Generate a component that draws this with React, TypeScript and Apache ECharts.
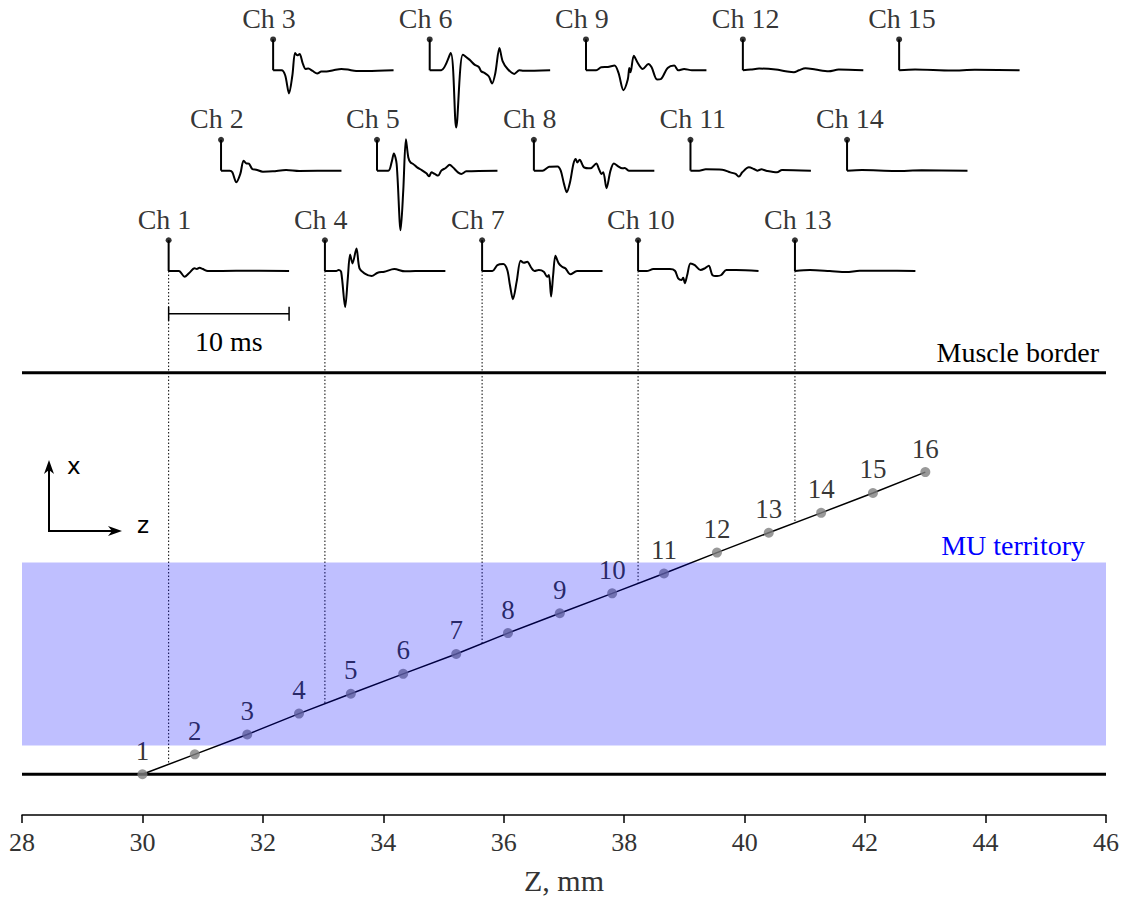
import React, { useEffect, useRef } from "react";
import * as echarts from "echarts";

const FONT = "'Liberation Serif', 'Times New Roman', serif";
const SANS = "'DejaVu Sans', sans-serif";

// axis ranges
const Z_MIN = 28;
const Z_MAX = 46;
const Z_STEP = 2;
const Y_MIN = 0;
const Y_MAX = 820;

// electrodes along the needle
const electrodeZ = [30.0, 30.87, 31.74, 32.6, 33.46, 34.33, 35.21, 36.07, 36.93, 37.8, 38.66, 39.54, 40.4, 41.27, 42.13, 43.0];
const electrodeY = [41, 61, 81, 102, 122, 142, 162, 183, 203, 223, 243, 264, 284, 304, 324, 345];
const electrodeLabels = ["1", "2", "3", "4", "5", "6", "7", "8", "9", "10", "11", "12", "13", "14", "15", "16"];

// horizontal structures
const bottomBorderY = 41;
const muscleBorderY = 445;
const muTerritory = [70, 254];

// waveform rows (baselines, same vertical units)
const rowBaseY = [547.3, 648.3, 749.3];
const stemHeight = 31;
const msToMm = 0.2;
const scaleBarMs = 10;
const scaleBarY = 504.3;

// waveforms: [time ms, amplitude]
const ch1 = [[0, 0], [0.85, 0], [1.32, -5.7], [1.68, -2.3], [2.15, 2.7], [2.34, 2], [2.56, 3.3], [2.84, 2], [3.25, 0], [5.6, 0.3], [10, 0]];
const ch2 = [[0, 0], [0.72, 0], [0.94, -1.7], [1.27, -11.7], [1.6, -3.3], [1.87, 10], [2.09, 7.3], [2.31, 7], [2.59, 1.7], [2.92, 1], [3.47, -1], [4.3, -0.7], [5.4, 0.7], [6.5, -0.3], [10, 0]];
const ch3 = [[0, 0], [0.7, 0], [1.0, -5], [1.32, -23.3], [1.6, -5], [1.82, 17.3], [2.0, 15], [2.2, 16.3], [2.45, 7.3], [2.7, 1.3], [2.92, 1.7], [3.28, -0.7], [3.66, -3.3], [4.0, -1.3], [4.44, -1.3], [5.0, 0], [5.67, 1.3], [6.2, 0.7], [6.9, -0.7], [7.8, -0.7], [10, 0]];
const ch4 = [[0, 0], [0.94, 0], [1.13, 1], [1.35, -1], [1.68, -36.3], [1.9, -7.3], [2.09, 16.7], [2.29, 7.7], [2.62, 22.7], [2.87, 2.7], [3.28, -2.3], [3.88, -5], [4.38, -1.7], [4.93, -0.7], [5.76, 2], [6.64, -0.3], [7.5, 0], [10, 0]];
const ch5 = [[0, 0], [0.94, 0], [1.21, 8.3], [1.4, 17.3], [1.63, 6.7], [1.96, -60], [2.18, -20], [2.4, 31.7], [2.6, 13.3], [2.78, 8.3], [3.0, 6.7], [3.33, 3.3], [3.69, 0.7], [4.1, -2.7], [4.33, -5.7], [4.52, -1.7], [4.79, -3.3], [5.07, -5], [5.34, 0], [5.7, 2.7], [6.03, 6], [6.31, 3.3], [6.72, -1.7], [7.0, -3.3], [7.41, -0.7], [10, 0]];
const ch6 = [[0, 0], [0.96, 0], [1.74, 17.3], [2.2, -57.7], [2.75, 15.7], [3.3, 10.7], [3.72, 5.7], [4.08, 3.3], [4.27, -1], [4.55, -2.7], [4.9, -6], [5.18, -13.3], [5.45, -2.7], [5.79, 22.3], [6.06, 9], [6.47, 1.3], [7.02, -3.7], [7.44, 0], [7.8, -0.5], [10, 0]];
const ch7 = [[0, 0], [0.85, 0], [1.27, 6], [1.76, 7], [2.09, 1], [2.31, -14], [2.56, -28.3], [2.87, -10.7], [3.2, 10.3], [3.47, 8.3], [3.75, 9.3], [4.08, 3.3], [4.35, 0], [4.71, 1], [5.12, -0.7], [5.4, -5.7], [5.55, -4], [5.73, -25.7], [5.9, -4], [6.09, 15.3], [6.36, 7.7], [6.64, 4.3], [6.91, 2.7], [7.33, -3.3], [7.88, 0], [10, 0]];
const ch8 = [[0, 0], [0.72, 0], [1.27, 4], [1.96, 4.3], [2.23, 0], [2.5, -13.3], [2.73, -21.7], [3.0, -11.7], [3.28, 6.7], [3.47, 11.7], [3.6, 8.3], [3.8, 11], [4.16, 3.3], [4.7, 2.3], [5.18, 7.3], [5.4, 1.7], [5.62, -3.3], [5.76, -1.7], [6.03, -17.7], [6.36, 0], [6.64, 7.3], [7.0, 4.3], [7.33, 2.3], [7.55, 2.7], [7.88, 0], [10, 0]];
const ch9 = [[0, 0], [0.85, 0], [1.27, 3], [1.82, 3.3], [2.37, 4.7], [2.7, -2.7], [3.11, -20], [3.47, -9.3], [3.6, 2.3], [3.7, -2], [3.97, 14.7], [4.3, 7.3], [4.71, 1.3], [5.18, 6.3], [5.45, 3], [5.9, -9.3], [6.23, -8.7], [6.78, 2.3], [7.33, 4.7], [7.66, 0], [8.15, 1.3], [8.8, 0], [10, 0]];
const ch10 = [[0, 0], [0.72, 0], [1.27, 2], [2.64, 2], [3.06, 0.3], [3.33, -7.3], [3.61, -9], [3.75, -6.7], [3.88, -12.3], [4.08, -4], [4.35, 7.7], [4.71, 6], [5.18, 1], [5.54, 2.7], [5.87, 5.3], [6.17, -4], [6.56, -5], [6.91, -4], [7.33, 1], [8.15, 1], [10, 0]];
const ch11 = [[0, 0], [0.72, 0], [1.27, 1.3], [2.64, 1], [3.31, -1.7], [3.75, -3.3], [4.02, -6], [4.3, -1.7], [4.85, 3.3], [5.26, 1.7], [5.54, 0], [5.9, 1.3], [6.36, -0.3], [7.19, -1.7], [7.6, 0.7], [10, 0]];
const ch12 = [[0, 0], [0.66, 0.7], [1.35, 1.7], [2.73, 0.7], [3.55, -1], [4.24, -2], [4.66, 0], [5.2, 2], [6.03, 0.7], [7.13, -1], [7.96, 0.7], [10, 0]];
const ch13 = [[0, 0], [1.24, 1], [2.89, 0], [4.27, -1], [5.37, 0.3], [7.3, 0.3], [10, 0]];
const ch14 = [[0, 0], [1.24, 0.7], [4.0, -0.3], [6.2, 0.3], [10, 0]];
const ch15 = [[0, 0], [1.32, 0.7], [4.35, -0.3], [6.28, 0.5], [10, 0]];

const waves = [ch1, ch2, ch3, ch4, ch5, ch6, ch7, ch8, ch9, ch10, ch11, ch12, ch13, ch14, ch15];

function buildOption() {
  const chZ = waves.map((_, k) => (electrodeZ[k] + electrodeZ[k + 1]) / 2);
  const chNeedleY = waves.map((_, k) => (electrodeY[k] + electrodeY[k + 1]) / 2);
  const chBase = waves.map((_, k) => rowBaseY[k % 3]);

  const series: any[] = [];

  // border lines
  [bottomBorderY, muscleBorderY].forEach((y, i) => {
    series.push({
      type: "line",
      name: i === 0 ? "bottom" : "muscle",
      data: [[Z_MIN, y], [Z_MAX, y]],
      symbol: "none",
      lineStyle: { color: "#000", width: 3 },
      z: 2,
      silent: true,
    });
  });

  // dotted projection lines (bottom row channels)
  waves.forEach((_, k) => {
    if (k % 3 !== 0) return;
    series.push({
      type: "line",
      data: [[chZ[k], chBase[k]], [chZ[k], chNeedleY[k]]],
      symbol: "none",
      lineStyle: { color: "#000", width: 1, type: [1.5, 2] },
      z: 2,
      silent: true,
    });
  });

  // needle
  series.push({
    type: "line",
    data: electrodeZ.map((z, i) => [z, electrodeY[i]]),
    symbol: "none",
    lineStyle: { color: "#000", width: 1.5 },
    z: 3,
    silent: true,
  });
  series.push({
    type: "scatter",
    data: electrodeZ.map((z, i) => ({ value: [z, electrodeY[i]], name: electrodeLabels[i] })),
    symbolSize: 10,
    itemStyle: { color: "#808080" },
    label: {
      show: true,
      position: "top",
      distance: 5,
      formatter: (p: any) => p.name,
      fontFamily: FONT,
      fontSize: 27,
      color: "#000",
    },
    z: 4,
    silent: true,
  });

  // MU territory overlay
  series.push({
    type: "custom",
    data: [[Z_MIN, muTerritory[0], Z_MAX, muTerritory[1]]],
    renderItem: (params: any, api: any) => {
      const p0 = api.coord([api.value(0), api.value(1)]);
      const p1 = api.coord([api.value(2), api.value(3)]);
      return {
        type: "rect",
        shape: { x: p0[0], y: p1[1], width: p1[0] - p0[0], height: p0[1] - p1[1] },
        style: { fill: "rgba(0,0,255,0.25)" },
      };
    },
    z: 10,
    silent: true,
  });

  // stems
  waves.forEach((_, k) => {
    series.push({
      type: "line",
      data: [[chZ[k], chBase[k]], [chZ[k], chBase[k] + stemHeight]],
      symbol: "none",
      lineStyle: { color: "#000", width: 2 },
      z: 5,
      silent: true,
    });
  });
  series.push({
    type: "scatter",
    data: waves.map((_, k) => ({ value: [chZ[k], chBase[k] + stemHeight], name: "Ch " + (k + 1) })),
    symbolSize: 6,
    itemStyle: { color: "#000" },
    label: {
      show: true,
      position: "top",
      align: "left",
      offset: [-31, 0],
      distance: 4,
      formatter: (p: any) => p.name,
      fontFamily: FONT,
      fontSize: 28,
      color: "#000",
    },
    z: 6,
    silent: true,
  });

  // waveforms
  waves.forEach((w, k) => {
    series.push({
      type: "line",
      data: w.map(([t, a]) => [chZ[k] + t * msToMm, chBase[k] + a]),
      symbol: "none",
      smooth: 0.3,
      lineStyle: { color: "#000", width: 2 },
      z: 5,
      silent: true,
    });
  });

  // scale bar
  series.push({
    type: "custom",
    data: [[chZ[0], chZ[0] + scaleBarMs * msToMm, scaleBarY]],
    renderItem: (params: any, api: any) => {
      const p0 = api.coord([api.value(0), api.value(2)]);
      const p1 = api.coord([api.value(1), api.value(2)]);
      const st = { stroke: "#000", lineWidth: 1.5 };
      return {
        type: "group",
        children: [
          { type: "line", shape: { x1: p0[0], y1: p0[1], x2: p1[0], y2: p1[1] }, style: st },
          { type: "line", shape: { x1: p0[0], y1: p0[1] - 7, x2: p0[0], y2: p0[1] + 7 }, style: st },
          { type: "line", shape: { x1: p1[0], y1: p1[1] - 7, x2: p1[0], y2: p1[1] + 7 }, style: st },
          {
            type: "text",
            x: (p0[0] + p1[0]) / 2,
            y: p0[1] + 28,
            style: {
              text: scaleBarMs + " ms",
              fontFamily: FONT,
              fontSize: 28,
              fill: "#000",
              align: "center",
              verticalAlign: "middle",
            },
          },
        ],
      };
    },
    z: 5,
    silent: true,
  });

  const arrowStroke = { stroke: "#000", lineWidth: 2 };

  return {
    animation: false,
    backgroundColor: "#fff",
    grid: { left: 22, right: 20, top: 0, bottom: 80 },
    xAxis: {
      type: "value",
      min: Z_MIN,
      max: Z_MAX,
      interval: Z_STEP,
      name: "Z, mm",
      nameLocation: "middle",
      nameGap: 50,
      nameTextStyle: { fontFamily: FONT, fontSize: 30, color: "#333" },
      axisLine: { lineStyle: { color: "#000", width: 1.5 } },
      axisTick: { length: 8, lineStyle: { color: "#000", width: 1.5 } },
      axisLabel: { fontFamily: FONT, fontSize: 26, color: "#333", margin: 14 },
      splitLine: { show: false },
    },
    yAxis: { type: "value", min: Y_MIN, max: Y_MAX, show: false },
    graphic: [
      {
        type: "text",
        x: 1099,
        y: 352,
        style: { text: "Muscle border", fontFamily: FONT, fontSize: 28, fill: "#000", align: "right", verticalAlign: "middle" },
      },
      {
        type: "text",
        x: 1085,
        y: 545,
        style: { text: "MU territory", fontFamily: FONT, fontSize: 28, fill: "#0000ff", align: "right", verticalAlign: "middle" },
      },
      { type: "line", shape: { x1: 49, y1: 531, x2: 49, y2: 468 }, style: arrowStroke },
      { type: "polygon", shape: { points: [[49, 460], [44, 474], [49, 470], [54, 474]] }, style: { fill: "#000" } },
      { type: "line", shape: { x1: 48, y1: 531, x2: 114, y2: 531 }, style: arrowStroke },
      { type: "polygon", shape: { points: [[122, 531], [108, 526], [112, 531], [108, 536]] }, style: { fill: "#000" } },
      {
        type: "text",
        x: 67,
        y: 466,
        style: { text: "x", fontFamily: SANS, fontSize: 23, fill: "#000", align: "left", verticalAlign: "middle" },
      },
      {
        type: "text",
        x: 137,
        y: 525,
        style: { text: "z", fontFamily: SANS, fontSize: 23, fill: "#000", align: "left", verticalAlign: "middle" },
      },
    ],
    series,
  };
}

export default function App() {
  const ref = useRef<HTMLDivElement>(null);
  useEffect(() => {
    document.body.style.margin = "0";
    if (!ref.current) return;
    const chart = echarts.init(ref.current, null, { renderer: "svg" });
    chart.setOption(buildOption() as any);
    return () => chart.dispose();
  }, []);
  return <div ref={ref} style={{ width: 1126, height: 900 }} />;
}
